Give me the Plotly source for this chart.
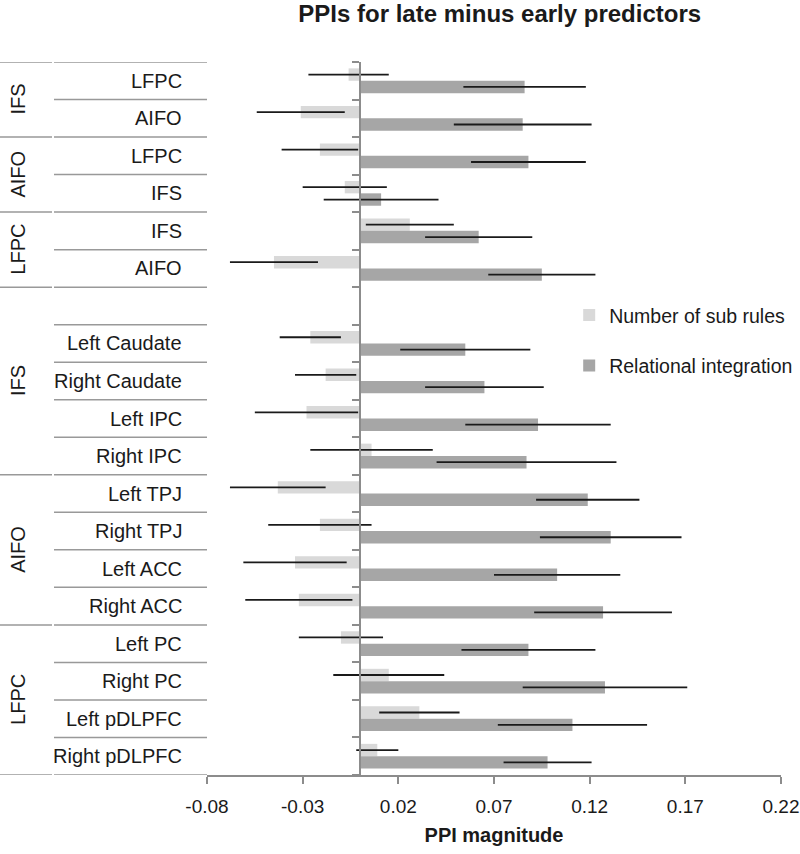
import plotly.graph_objects as go

# seed regions (group) and target regions, top to bottom; "" is the blank row
groups = ["IFS", "IFS", "AIFO", "AIFO", "LFPC", "LFPC",
          "IFS", "IFS", "IFS", "IFS", "IFS",
          "AIFO", "AIFO", "AIFO", "AIFO",
          "LFPC", "LFPC", "LFPC", "LFPC"]
regions = ["LFPC", "AIFO", "LFPC", "IFS", "IFS", "AIFO",
           "", "Left Caudate", "Right Caudate", "Left IPC", "Right IPC",
           "Left TPJ", "Right TPJ", "Left ACC", "Right ACC",
           "Left PC", "Right PC", "Left pDLPFC", "Right pDLPFC"]

sub_rules = [-0.006, -0.031, -0.021, -0.008, 0.026, -0.045,
             None, -0.026, -0.018, -0.028, 0.006,
             -0.043, -0.021, -0.034, -0.032,
             -0.010, 0.015, 0.031, 0.009]
sub_rules_err = [0.021, 0.023, 0.020, 0.022, 0.023, 0.023,
                 None, 0.016, 0.016, 0.027, 0.032,
                 0.025, 0.027, 0.027, 0.028,
                 0.022, 0.029, 0.021, 0.011]
relational = [0.086, 0.085, 0.088, 0.011, 0.062, 0.095,
              None, 0.055, 0.065, 0.093, 0.087,
              0.119, 0.131, 0.103, 0.127,
              0.088, 0.128, 0.111, 0.098]
relational_err = [0.032, 0.036, 0.030, 0.030, 0.028, 0.028,
                  None, 0.034, 0.031, 0.038, 0.047,
                  0.027, 0.037, 0.033, 0.036,
                  0.035, 0.043, 0.039, 0.023]

tick_values = [-0.08, -0.03, 0.02, 0.07, 0.12, 0.17, 0.22]
tick_labels = ["-0.08", "-0.03", "0.02", "0.07", "0.12", "0.17", "0.22"]

FONT = "Liberation Sans, Arial, sans-serif"
rows = list(range(len(regions)))
x_min, x_max = tick_values[0], tick_values[-1]

# plot area is 574px wide; label column is placed left of it in paper units
plot_w = 574
def px(v):
    return v / plot_w

fig = go.Figure()

fig.add_trace(go.Bar(
    y=rows, x=sub_rules, orientation="h", name="Number of sub rules",
    marker=dict(color="#d9d9d9", line=dict(width=0)),
    error_x=dict(type="data", array=sub_rules_err, color="#1a1a1a",
                 thickness=1.8, width=0),
    legendgroup="a",
))
fig.add_trace(go.Bar(
    y=rows, x=relational, orientation="h", name="Relational integration",
    marker=dict(color="#a6a6a6", line=dict(width=0)),
    error_x=dict(type="data", array=relational_err, color="#1a1a1a",
                 thickness=1.8, width=0),
    legendgroup="b",
))

# separator lines and labels of the two-level category column
shapes = []
annotations = []
line_style = dict(color="#999999", width=1.5)
runs = []
start = 0
for i in range(1, len(groups) + 1):
    if i == len(groups) or groups[i] != groups[start]:
        runs.append((start, i - 1))
        start = i
outer = set([-0.5] + [b + 0.5 for _, b in runs])
for b in [r - 0.5 for r in rows] + [len(rows) - 0.5]:
    shapes.append(dict(type="line", xref="paper", yref="y", x0=px(-153), x1=0,
                       y0=b, y1=b, line=line_style))
    if b in outer:
        shapes.append(dict(type="line", xref="paper", yref="y", x0=px(-207),
                           x1=px(-155), y0=b, y1=b, line=line_style))

for r, name in zip(rows, regions):
    if name:
        annotations.append(dict(text=name, xref="paper", yref="y", x=px(-23), y=r,
                                xanchor="right", yanchor="middle", showarrow=False,
                                font=dict(family=FONT, size=20, color="#1a1a1a")))
for a, b in runs:
    annotations.append(dict(text=groups[a], xref="paper", yref="y", x=px(-189),
                            y=(a + b) / 2, textangle=-90, xanchor="center",
                            yanchor="middle", showarrow=False,
                            font=dict(family=FONT, size=20, color="#1a1a1a")))

fig.update_layout(
    width=800, height=854,
    margin=dict(l=207, r=19, t=62, b=79, autoexpand=False),
    paper_bgcolor="white", plot_bgcolor="white",
    barmode="group", bargap=0.34, bargroupgap=0,
    title=dict(text="<b>PPIs for late minus early predictors</b>",
               x=0.51, xref="paper", xanchor="center",
               y=1 - 14 / 854, yref="container", yanchor="middle",
               font=dict(family=FONT, size=24, color="#1a1a1a")),
    xaxis=dict(range=[x_min, x_max], tickvals=tick_values, ticktext=tick_labels,
               showgrid=False, zeroline=False, showline=True, automargin=False,
               linecolor="#8c8c8c", linewidth=1.5, ticks="outside", ticklen=7,
               tickcolor="#8c8c8c", tickwidth=1.5, ticklabelstandoff=6,
               tickfont=dict(family=FONT, size=19, color="#1a1a1a"),
               title=dict(text="<b>PPI magnitude</b>", standoff=12,
                          font=dict(family=FONT, size=20, color="#1a1a1a"))),
    yaxis=dict(range=[len(rows) - 0.5, -0.5], anchor="free", automargin=False,
               position=(0 - x_min) / (x_max - x_min),
               showline=True, linecolor="#8c8c8c", linewidth=2,
               ticks="outside", ticklen=7, tickcolor="#8c8c8c", tickwidth=1.5,
               tickvals=[r - 0.5 for r in rows] + [len(rows) - 0.5],
               showticklabels=False, showgrid=False, zeroline=False),
    legend=dict(x=0.631, y=0.672, xanchor="left", yanchor="top",
                traceorder="grouped", tracegroupgap=22,
                bgcolor="rgba(0,0,0,0)",
                font=dict(family=FONT, size=19.5, color="#1a1a1a")),
    shapes=shapes,
    annotations=annotations,
)

# drop the browser's default 8px body margin so the figure fills the window
fig.write_html("out.html", config={"displayModeBar": False},
               post_script="document.body.style.margin = '0';")
